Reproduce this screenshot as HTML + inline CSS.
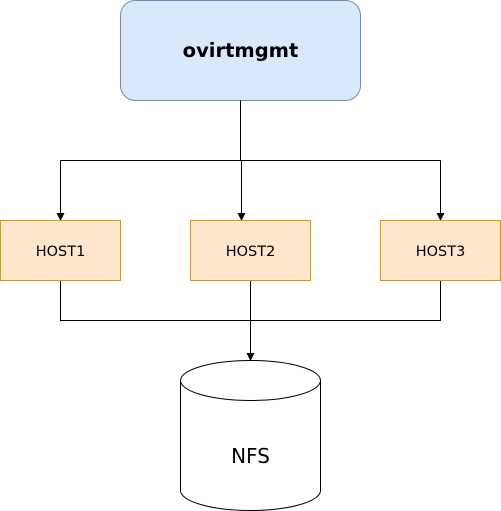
<!DOCTYPE html>
<html><head><style>body{margin:0;background:#fff}svg{display:block}</style></head><body>
<svg width="501" height="511" viewBox="0 0 501 511" xmlns="http://www.w3.org/2000/svg" font-family="'DejaVu Sans','Liberation Sans',sans-serif">
<rect x="120.5" y="0.5" width="240" height="100" rx="15" fill="#dae8fc" stroke="#6c8ebf"/>
<text x="240.5" y="57" text-anchor="middle" font-size="19.5" font-weight="bold">ovirtmgmt</text>
<g stroke="#000" fill="none">
<path d="M240.5 100.5V160.5M60.5 160.5H440.5M60.5 160.5V214M241.5 160.5V214M440.5 160.5V214"/>
<path d="M60.5 280.5V320.5H440.5V280.5M250.5 280.5V354"/>
</g>
<g fill="#000">
<path d="M56.5 213L60.5 221L64.5 213Z"/>
<path d="M237.5 213L241.5 221L245.5 213Z"/>
<path d="M436.5 213L440.5 221L444.5 213Z"/>
<path d="M246.5 353L250.5 361L254.5 353Z"/>
</g>
<g fill="#ffe6cc" stroke="#d79b00">
<rect x="0.5" y="220.5" width="120" height="60"/>
<rect x="190.5" y="220.5" width="120" height="60"/>
<rect x="380.5" y="220.5" width="120" height="60"/>
</g>
<g font-size="14.5" text-anchor="middle">
<text x="60.5" y="256">HOST1</text>
<text x="250.5" y="256">HOST2</text>
<text x="440.5" y="256">HOST3</text>
</g>
<path d="M180.5 380.5A70 20 0 0 1 320.5 380.5V490.5A70 20 0 0 1 180.5 490.5Z" fill="#fff" stroke="#000"/>
<path d="M180.5 380.5A70 20 0 0 0 320.5 380.5" fill="none" stroke="#000"/>
<text x="250.5" y="463" text-anchor="middle" font-size="20">NFS</text>
</svg>
</body></html>
